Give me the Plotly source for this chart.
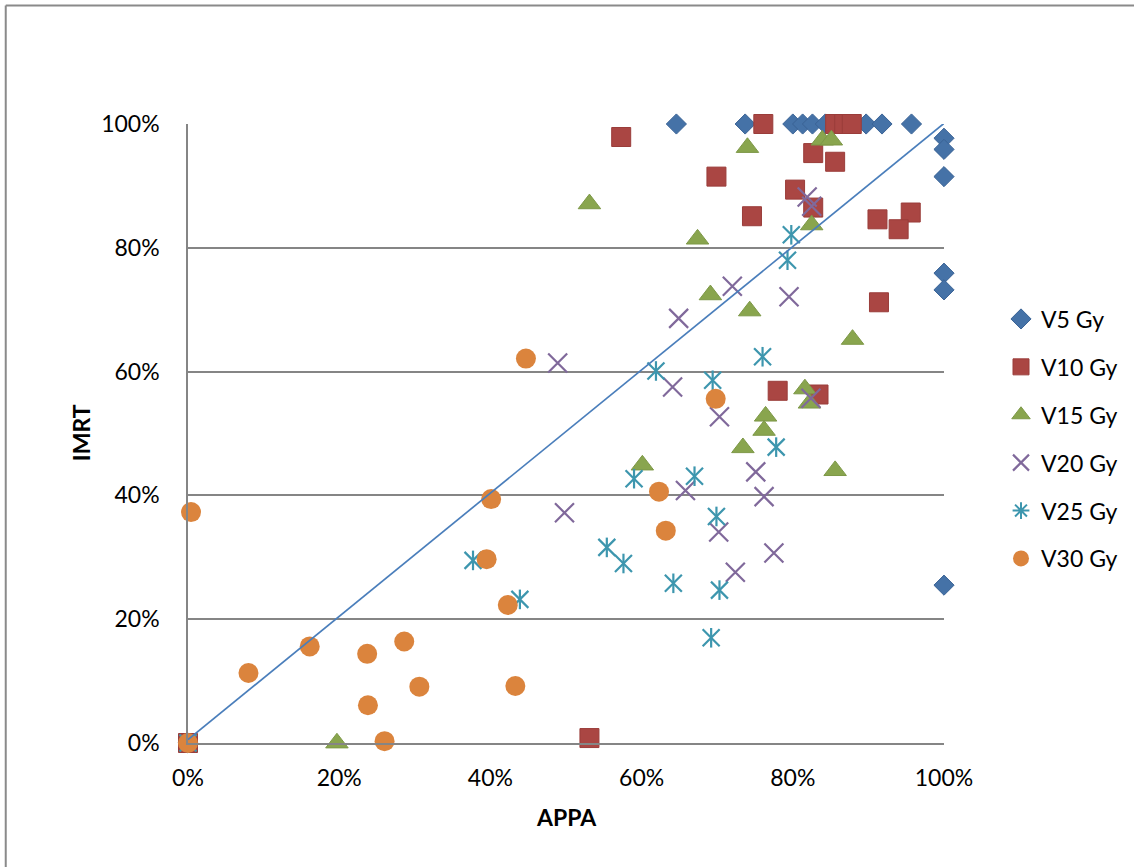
import plotly.graph_objects as go

# APPA vs IMRT dose-volume fractions for each dose level
v5_appa = [0.0, 0.646, 0.737, 0.800, 0.813, 0.826, 0.843, 0.897, 0.918, 0.957,
           1.0, 1.0, 1.0, 1.0, 1.0, 1.0]
v5_imrt = [0.0, 1.0, 1.0, 1.0, 1.0, 1.0, 1.0, 1.0, 1.0, 1.0,
           0.977, 0.959, 0.915, 0.759, 0.732, 0.255]

v10_appa = [0.0, 0.573, 0.761, 0.856, 0.868, 0.878, 0.827, 0.856, 0.699, 0.803,
            0.827, 0.746, 0.912, 0.956, 0.940, 0.914, 0.780, 0.834, 0.531]
v10_imrt = [0.0, 0.979, 1.0, 1.0, 1.0, 1.0, 0.953, 0.939, 0.915, 0.894,
            0.865, 0.851, 0.846, 0.857, 0.830, 0.712, 0.569, 0.563, 0.008]

v15_appa = [0.197, 0.740, 0.839, 0.851, 0.531, 0.674, 0.825, 0.691, 0.743, 0.879,
            0.816, 0.822, 0.764, 0.762, 0.734, 0.601, 0.856]
v15_imrt = [0.0, 0.962, 0.974, 0.974, 0.871, 0.814, 0.837, 0.724, 0.698, 0.652,
            0.572, 0.549, 0.528, 0.505, 0.477, 0.449, 0.440]

v20_appa = [0.819, 0.825, 0.720, 0.795, 0.649, 0.489, 0.641, 0.824, 0.703, 0.751,
            0.498, 0.658, 0.762, 0.702, 0.724, 0.775]
v20_imrt = [0.882, 0.867, 0.738, 0.721, 0.686, 0.614, 0.575, 0.557, 0.527, 0.438,
            0.372, 0.408, 0.398, 0.341, 0.276, 0.307]

v25_appa = [0.0, 0.798, 0.793, 0.760, 0.619, 0.694, 0.778, 0.590, 0.670, 0.699,
            0.554, 0.576, 0.642, 0.703, 0.692, 0.377, 0.439]
v25_imrt = [0.0, 0.821, 0.780, 0.624, 0.601, 0.586, 0.478, 0.427, 0.431, 0.366,
            0.316, 0.290, 0.258, 0.247, 0.170, 0.295, 0.232]

v30_appa = [0.0, 0.698, 0.401, 0.395, 0.423, 0.623, 0.632, 0.447, 0.004, 0.161,
            0.080, 0.237, 0.286, 0.306, 0.433, 0.238, 0.260]
v30_imrt = [0.0, 0.556, 0.394, 0.297, 0.223, 0.406, 0.343, 0.621, 0.373, 0.156,
            0.113, 0.144, 0.164, 0.091, 0.092, 0.061, 0.003]

# identity reference line
ref_x = [0.0, 1.004]
ref_y = [0.0055, 1.005]

tick_vals = [0, 0.2, 0.4, 0.6, 0.8, 1.0]
tick_text = ["0%", "20%", "40%", "60%", "80%", "100%"]

FONT = "Lato, 'Open Sans', sans-serif"
W, H = 1134, 867
PL, PR, PT, PB = 188, 945, 124, 743  # plot area edges in px
GRID = "#858585"


def px_x(px):
    return (px - PL) / (PR - PL)


def px_y(py):
    return (PB - py) / (PB - PT)


fig = go.Figure()

fig.add_trace(go.Scatter(
    x=v5_appa, y=v5_imrt, mode="markers", name="V5 Gy", legendgroup="v5",
    marker=dict(symbol="diamond", size=15.5, color="#4572A7",
                line=dict(color="#3A6396", width=1)),
    cliponaxis=False))

fig.add_trace(go.Scatter(
    x=v10_appa, y=v10_imrt, mode="markers", name="V10 Gy", legendgroup="v10",
    marker=dict(symbol="square", size=19, color="#AA4643",
                line=dict(color="#9A3D3A", width=1)),
    cliponaxis=False))

fig.add_trace(go.Scatter(
    x=v15_appa, y=v15_imrt, mode="markers", name="V15 Gy", legendgroup="v15",
    marker=dict(symbol="triangle-up", size=19.5, color="#89A54E",
                line=dict(color="#7D9847", width=1)),
    cliponaxis=False))

fig.add_trace(go.Scatter(
    x=v20_appa, y=v20_imrt, mode="markers", name="V20 Gy", legendgroup="v20",
    marker=dict(symbol="x-thin-open", size=19, color="#80699B",
                line=dict(color="#7A6396", width=2.2)),
    cliponaxis=False))

# V25 star: diagonal cross plus vertical stroke
fig.add_trace(go.Scatter(
    x=v25_appa, y=v25_imrt, mode="markers", name="V25 Gy", legendgroup="v25",
    showlegend=False,
    marker=dict(symbol="x-thin-open", size=17, color="#3D96AE",
                line=dict(color="#3D96AE", width=2.2)),
    cliponaxis=False))
fig.add_trace(go.Scatter(
    x=v25_appa, y=v25_imrt, mode="markers", name="V25 Gy", legendgroup="v25",
    showlegend=False,
    marker=dict(symbol="line-ns-open", size=14, color="#3D96AE",
                line=dict(color="#3D96AE", width=2.2)),
    cliponaxis=False))
fig.add_trace(go.Scatter(
    x=[None], y=[None], mode="markers", name="V25 Gy", legendgroup="v25",
    marker=dict(symbol="asterisk-open", size=14, color="#3D96AE",
                line=dict(color="#3D96AE", width=2))))

fig.add_trace(go.Scatter(
    x=v30_appa, y=v30_imrt, mode="markers", name="V30 Gy", legendgroup="v30",
    marker=dict(symbol="circle", size=20, color="#DB843D",
                line=dict(color="#DB843D", width=0)),
    cliponaxis=False))

fig.add_trace(go.Scatter(
    x=ref_x, y=ref_y, mode="lines", showlegend=False,
    line=dict(color="#4A7EBB", width=1.7), cliponaxis=False))

axis_common = dict(
    range=[0, 1], tickvals=tick_vals, ticktext=tick_text,
    tickfont=dict(family=FONT, size=23, color="#000000"),
    zeroline=False, ticks="", fixedrange=True,
)

fig.update_xaxes(**axis_common, showgrid=False, showline=True,
                 linecolor=GRID, linewidth=1.6, ticklabelstandoff=14)
fig.update_yaxes(**axis_common, showgrid=True, gridcolor=GRID,
                 gridwidth=1.6, showline=True, linecolor=GRID,
                 linewidth=1.6, ticklabelstandoff=22)

fig.add_annotation(text="<b>IMRT</b>", textangle=-90, showarrow=False,
                   xref="paper", yref="paper", x=px_x(81), y=px_y(433),
                   xanchor="center", yanchor="middle",
                   font=dict(family=FONT, size=23, color="#000000"))
fig.add_annotation(text="<b>APPA</b>", showarrow=False,
                   xref="paper", yref="paper", x=0.5, y=px_y(817),
                   xanchor="center", yanchor="middle",
                   font=dict(family=FONT, size=23, color="#000000"))

# chart-area border (left and top edges)
border = dict(type="line", xref="paper", yref="paper",
              line=dict(color="#8A8A8A", width=2))
fig.add_shape(**border, x0=px_x(5.5), x1=px_x(5.5), y0=px_y(H + 10), y1=px_y(5.5))
fig.add_shape(**border, x0=px_x(5.5), x1=px_x(W + 10), y0=px_y(5.5), y1=px_y(5.5))

fig.update_layout(
    width=W, height=H,
    margin=dict(l=PL, r=W - PR, t=PT, b=H - PB, pad=0),
    paper_bgcolor="#FFFFFF", plot_bgcolor="#FFFFFF",
    font=dict(family=FONT, size=23, color="#000000"),
    legend=dict(x=px_x(1001), y=px_y(439), xanchor="left", yanchor="middle",
                traceorder="grouped", tracegroupgap=15,
                font=dict(family=FONT, size=23, color="#000000"),
                bgcolor="rgba(0,0,0,0)", itemclick=False, itemdoubleclick=False),
    showlegend=True,
)

fig.write_html("out.html")
